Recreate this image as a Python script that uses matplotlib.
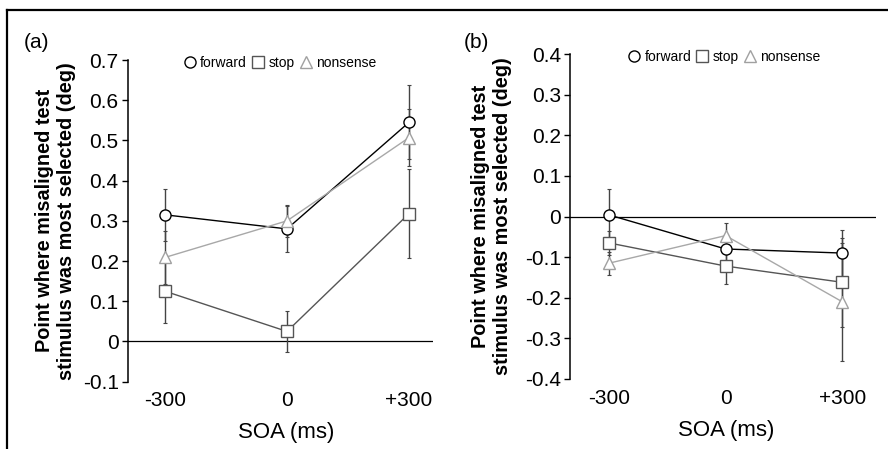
import matplotlib
matplotlib.use("Agg")
import matplotlib.pyplot as plt
from matplotlib.lines import Line2D

plt.rcParams['font.family'] = ['Liberation Sans', 'DejaVu Sans']

soa = [-300, 0, 300]
soa_labels = ['-300', '0', '+300']

# Panel (a)
a_forward = [0.315, 0.280, 0.545]
a_forward_err = [0.065, 0.057, 0.092]
a_stop = [0.125, 0.025, 0.318]
a_stop_err = [0.080, 0.052, 0.110]
a_nonsense = [0.209, 0.300, 0.507]
a_nonsense_err = [0.065, 0.040, 0.070]

# Panel (b)
b_forward = [0.004, -0.080, -0.090]
b_forward_err = [0.064, 0.030, 0.058]
b_stop = [-0.065, -0.122, -0.162]
b_stop_err = [0.030, 0.045, 0.110]
b_nonsense = [-0.115, -0.047, -0.210]
b_nonsense_err = [0.028, 0.032, 0.145]

series_names = ['forward', 'stop', 'nonsense']
markers = ['o', 's', '^']
line_colors = ['#000000', '#555555', '#a8a8a8']
edge_colors = ['#000000', '#555555', '#a0a0a0']
err_color = '#444444'

W, H = 888, 449
fig = plt.figure(figsize=(W / 100, H / 100), dpi=100)

# outer frame (top and left)
fig.add_artist(Line2D([7 / W, 1.0], [1 - 10 / H, 1 - 10 / H], color='black', lw=1.6,
                      transform=fig.transFigure))
fig.add_artist(Line2D([7 / W, 7 / W], [0, 1 - 10 / H], color='black', lw=1.6,
                      transform=fig.transFigure))

panels = [
    dict(px=(127.7, 433, 60, 381.7),
         xlim=(-391.7, 359), ylim=(-0.1, 0.7),
         yticks=[-0.1, 0, 0.1, 0.2, 0.3, 0.4, 0.5, 0.6, 0.7],
         data=[(a_forward, a_forward_err), (a_stop, a_stop_err), (a_nonsense, a_nonsense_err)],
         label='(a)', label_xy=(24, 43), xlabel_x=0.52,
         leg=(0.497, 1.03), ylab_x=-0.168),
    dict(px=(570, 876, 54, 379),
         xlim=(-400, 386.6), ylim=(-0.4, 0.4),
         yticks=[-0.4, -0.3, -0.2, -0.1, 0, 0.1, 0.2, 0.3, 0.4],
         data=[(b_forward, b_forward_err), (b_stop, b_stop_err), (b_nonsense, b_nonsense_err)],
         label='(b)', label_xy=(464, 43), xlabel_x=0.509,
         leg=(0.503, 1.03), ylab_x=-0.19),
]

for p in panels:
    l, r, t, b = p['px']
    ax = fig.add_axes([l / W, 1 - b / H, (r - l) / W, (b - t) / H])
    ax.axhline(0, color='black', lw=0.9, zorder=1)
    for (vals, errs), name, m, lc, ec in zip(p['data'], series_names, markers, line_colors, edge_colors):
        ax.errorbar(soa, vals, yerr=errs, fmt='none', ecolor=err_color, elinewidth=1.0,
                    capsize=1.5, capthick=0.8, zorder=2)
        ax.plot(soa, vals, color=lc, lw=1.0, marker=m, markersize=8 if m != '^' else 8.5,
                markerfacecolor='white', markeredgecolor=ec, markeredgewidth=1.0,
                label=name, zorder=3)
    ax.set_xlim(*p['xlim'])
    ax.set_ylim(*p['ylim'])
    ax.set_yticks(p['yticks'])
    ax.set_yticklabels(['0' if abs(tk) < 1e-9 else f'{tk:.1f}' for tk in p['yticks']])
    ax.set_xticks(soa)
    ax.set_xticklabels(soa_labels)
    for s in ['top', 'right', 'bottom']:
        ax.spines[s].set_visible(False)
    ax.spines['left'].set_linewidth(1.1)
    ax.tick_params(axis='y', direction='out', length=4.5, width=1.0, pad=2, labelsize=15)
    ax.tick_params(axis='x', length=0, pad=7, labelsize=15)
    ax.set_xlabel('SOA (ms)', fontsize=16)
    ax.xaxis.set_label_coords(p['xlabel_x'], -0.125)
    ax.set_ylabel('Point where misaligned test\nstimulus was most selected (deg)',
                  fontsize=14.3, fontweight='bold', linespacing=1.2)
    ax.yaxis.set_label_coords(p['ylab_x'], 0.5)
    ax.set_facecolor('none')
    leg = ax.legend(loc='upper center', bbox_to_anchor=p['leg'], ncol=3, frameon=False,
                    handlelength=1.0, handletextpad=0.25, columnspacing=0.3,
                    fontsize=10, borderaxespad=0, numpoints=1)
    for h in leg.legend_handles:
        h.set_linestyle('none')
    fig.text(p['label_xy'][0] / W, 1 - p['label_xy'][1] / H, p['label'], fontsize=15,
             va='center', ha='left')

fig.savefig('out.png', dpi=100)
